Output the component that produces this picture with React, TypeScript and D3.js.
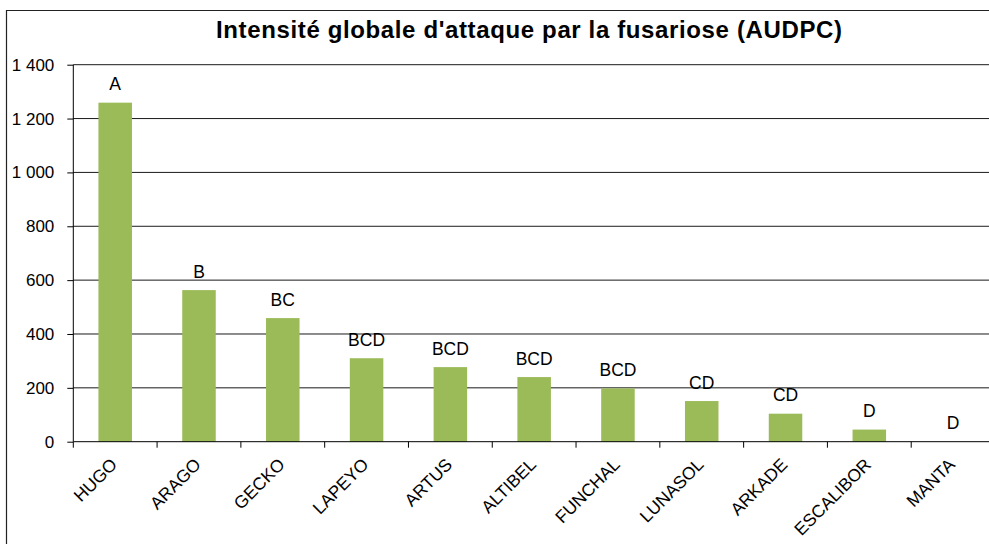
import React, { useEffect, useRef } from 'react';
import * as d3 from 'd3';

const varieties = ['HUGO', 'ARAGO', 'GECKO', 'LAPEYO', 'ARTUS', 'ALTIBEL', 'FUNCHAL', 'LUNASOL', 'ARKADE', 'ESCALIBOR', 'MANTA'];
const audpc = [1259, 563, 459, 310, 277, 240, 198, 151, 104, 45, 0];
const groups = ['A', 'B', 'BC', 'BCD', 'BCD', 'BCD', 'BCD', 'CD', 'CD', 'D', 'D'];
const yTicks = [0, 200, 400, 600, 800, 1000, 1200, 1400];

const width = 989;
const height = 544;
const font = '"Liberation Sans", Arial, sans-serif';

function App() {
  const ref = useRef<SVGSVGElement>(null);

  useEffect(() => {
    document.body.style.margin = '0';
    drawChart();
  }, []);

  function drawChart() {
    const svg = d3.select(ref.current);
    svg.selectAll('*').remove();

    const left = 73.3;
    const right = 995;
    const top = 64.7;
    const bottom = 441.7;

    // chart frame (cut off at the right and bottom)
    svg.append('path')
      .attr('d', `M6.5,${height + 2}V10.5H${width + 2}`)
      .attr('fill', 'none')
      .attr('stroke', '#222')
      .attr('stroke-width', 1.2);

    svg.append('text')
      .attr('x', 216)
      .attr('y', 37.5)
      .attr('textLength', 626)
      .attr('lengthAdjust', 'spacing')
      .style('font-family', font)
      .style('font-weight', 'bold')
      .style('font-size', '24px')
      .text("Intensité globale d'attaque par la fusariose (AUDPC)");

    const x = d3.scaleBand().domain(varieties).range([left, right]).padding(0);
    const y = d3.scaleLinear().domain([0, 1400]).range([bottom, top]);

    // gridlines
    svg.append('g')
      .selectAll('line')
      .data(yTicks.filter((t) => t > 0))
      .enter()
      .append('line')
      .attr('x1', left)
      .attr('x2', width + 2)
      .attr('y1', (d) => y(d))
      .attr('y2', (d) => y(d))
      .attr('stroke', '#1a1a1a')
      .attr('stroke-width', 1);

    // y axis
    const yAxis = svg.append('g')
      .attr('transform', `translate(${left},0)`)
      .call(d3.axisLeft(y).tickValues(yTicks).tickSize(6).tickPadding(13)
        .tickFormat((d) => d3.format(',')(d as number).replace(',', ' ')));
    yAxis.select('.domain').attr('stroke', '#000').attr('d', `M0,${top}V${bottom}`);
    yAxis.selectAll('line').attr('stroke', '#000');
    yAxis.selectAll('text')
      .style('font-family', font)
      .style('font-size', '17px')
      .attr('fill', '#000');

    const bw = x.bandwidth() * 0.4;

    svg.append('g')
      .selectAll('rect')
      .data(varieties)
      .enter()
      .append('rect')
      .attr('x', (d) => x(d)! + x.bandwidth() / 2 - bw / 2)
      .attr('width', bw)
      .attr('y', (_, i) => y(audpc[i]))
      .attr('height', (_, i) => bottom - y(audpc[i]))
      .attr('fill', '#9BBB59');

    // letter groups
    svg.append('g')
      .selectAll('text')
      .data(varieties)
      .enter()
      .append('text')
      .attr('x', (d) => x(d)! + x.bandwidth() / 2)
      .attr('y', (_, i) => y(audpc[i]) - 12.5)
      .attr('text-anchor', 'middle')
      .style('font-family', font)
      .style('font-size', '17.5px')
      .text((_, i) => groups[i]);

    // x axis
    svg.append('line')
      .attr('x1', left).attr('x2', width + 2)
      .attr('y1', bottom).attr('y2', bottom)
      .attr('stroke', '#000');
    svg.append('g')
      .selectAll('line')
      .data(varieties)
      .enter()
      .append('line')
      .attr('x1', (d) => x(d)!)
      .attr('x2', (d) => x(d)!)
      .attr('y1', bottom)
      .attr('y2', bottom + 6)
      .attr('stroke', '#000');

    svg.append('g')
      .selectAll('text')
      .data(varieties)
      .enter()
      .append('text')
      .attr('text-anchor', 'end')
      .attr('transform', (d) => `translate(${x(d)! + x.bandwidth() / 2 + 3},${bottom + 24}) rotate(-45)`)
      .style('font-family', font)
      .style('font-size', '17.5px')
      .text((d) => d);
  }

  return <svg ref={ref} width={width} height={height} style={{ display: 'block', background: '#fff' }} />;
}

export default App;
